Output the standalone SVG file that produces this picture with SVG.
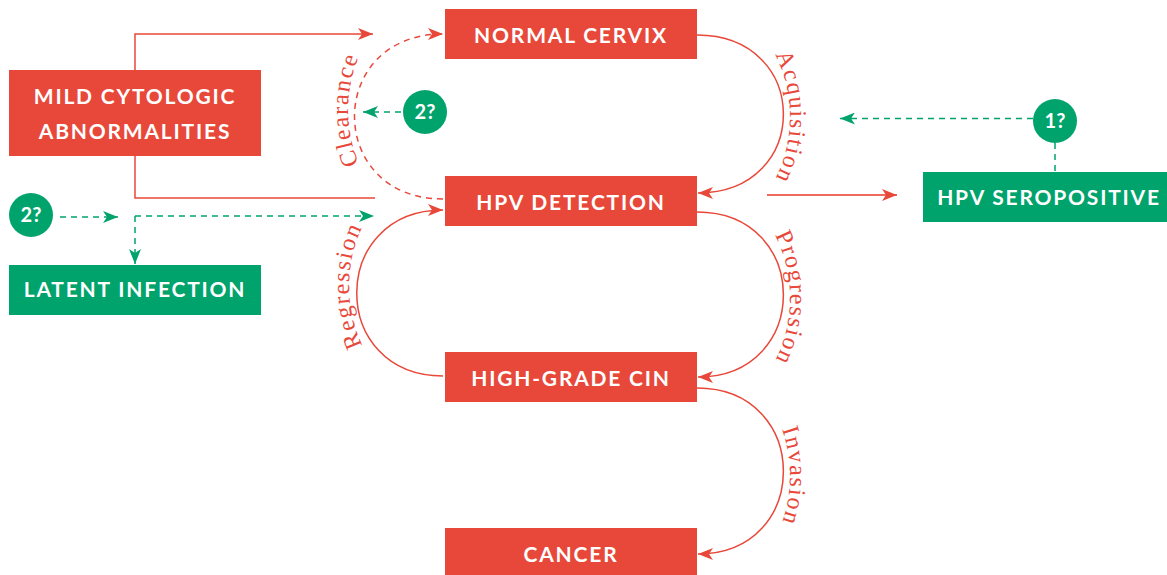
<svg xmlns="http://www.w3.org/2000/svg" width="1167" height="575" viewBox="0 0 1167 575">
<defs>
<style>
.red{fill:#E8483A}
.grn{fill:#00A36C}
.lbl{font-family:Lato,"Open Sans",sans-serif;font-weight:700;font-size:21px;letter-spacing:1.8px;fill:#fff;text-anchor:middle}
.num{font-family:Lato,"Open Sans",sans-serif;font-weight:700;font-size:20px;fill:#fff;text-anchor:middle}
.arc{font-family:"Liberation Serif","Times New Roman",serif;font-size:24px;letter-spacing:1.6px;fill:#E8483A}
.rl{fill:none;stroke:#E8483A;stroke-width:1.5}
.rd{fill:none;stroke:#E8483A;stroke-width:1.5;stroke-dasharray:6 5}
.gd{fill:none;stroke:#00A36C;stroke-width:1.5;stroke-dasharray:6 5}
.lt{fill:none;stroke:#EE6A5B;stroke-width:2}
</style>
<marker id="ar" viewBox="0 0 15 12" refX="15" refY="6" markerWidth="15" markerHeight="12" markerUnits="userSpaceOnUse" orient="auto">
<path d="M0,0 L15,6 L0,12 L4,6 Z" fill="#E8483A"/>
</marker>
<marker id="ag" viewBox="0 0 15 12" refX="15" refY="6" markerWidth="15" markerHeight="12" markerUnits="userSpaceOnUse" orient="auto">
<path d="M0,0 L15,6 L0,12 L4,6 Z" fill="#00A36C"/>
</marker>
<path id="pAcq" d="M697,2 A93,115 0 0 1 697,232"/>
<path id="pPro" d="M697,183 A93,115 0 0 1 697,413"/>
<path id="pInv" d="M697,361 A93,115 0 0 1 697,591"/>
<path id="pCle" d="M443,225 A95,115 0 0 1 443,-5"/>
<path id="pReg" d="M443,401 A94,115 0 0 1 443,171"/>
</defs>

<g id="connectors">
<path class="rl" d="M135,70 V34 H373" marker-end="url(#ar)"/>
<path class="rl" d="M135,156 V198 H375"/>
<path class="gd" d="M60,217 H118" marker-end="url(#ag)"/>
<path class="gd" d="M135,216 H374" marker-end="url(#ag)"/>
<path class="gd" d="M135,216 V264" marker-end="url(#ag)"/>
<path class="gd" d="M401,112 H363" marker-end="url(#ag)"/>
<path class="rd" d="M443,199 C325,199 325,34 443,34" marker-end="url(#ar)"/>
<path class="rl" d="M697,35 C812,35 812,193 698,193" marker-end="url(#ar)"/>
<path class="rl" d="M697,212 C812,212 812,377 698,377" marker-end="url(#ar)"/>
<path class="rl" d="M443,376 C328,376 328,210 443,210" marker-end="url(#ar)"/>
<path class="rl" d="M697,388 C812,388 812,554 698,554" marker-end="url(#ar)"/>
<path class="lt" d="M767,195 H897" marker-end="url(#ar)"/>
<path class="gd" d="M1033,118.5 H840" marker-end="url(#ag)"/>
<path class="gd" d="M1055,143 V172"/>
<text class="arc"><textPath href="#pAcq" startOffset="50%" text-anchor="middle">Acquisition</textPath></text>
<text class="arc"><textPath href="#pPro" startOffset="50%" text-anchor="middle">Progression</textPath></text>
<text class="arc"><textPath href="#pInv" startOffset="50%" text-anchor="middle">Invasion</textPath></text>
<text class="arc"><textPath href="#pCle" startOffset="50%" text-anchor="middle">Clearance</textPath></text>
<text class="arc"><textPath href="#pReg" startOffset="50%" text-anchor="middle">Regression</textPath></text>
</g>

<g id="normal-cervix"><rect class="red" x="445" y="9" width="252" height="50"/><text class="lbl" x="571" y="43">NORMAL CERVIX</text></g>
<g id="hpv-detection"><rect class="red" x="445" y="176" width="252" height="50"/><text class="lbl" x="571" y="210">HPV DETECTION</text></g>
<g id="high-grade-cin"><rect class="red" x="445" y="352" width="252" height="50"/><text class="lbl" x="571" y="386">HIGH-GRADE CIN</text></g>
<g id="cancer"><rect class="red" x="445" y="528" width="252" height="50"/><text class="lbl" x="571" y="562">CANCER</text></g>
<g id="mild-cytologic"><rect class="red" x="9" y="70" width="252" height="86"/><text class="lbl" x="135" y="104">MILD CYTOLOGIC</text><text class="lbl" x="135" y="138.5">ABNORMALITIES</text></g>
<g id="latent-infection"><rect class="grn" x="9" y="265" width="252" height="50"/><text class="lbl" x="135" y="297">LATENT INFECTION</text></g>
<g id="hpv-seropositive"><rect class="grn" x="923" y="172" width="252" height="50"/><text class="lbl" x="1049" y="205">HPV SEROPOSITIVE</text></g>
<g id="q-clearance"><circle class="grn" cx="425" cy="112" r="22"/><text class="num" x="425" y="119">2?</text></g>
<g id="q-latent"><circle class="grn" cx="31" cy="215" r="22"/><text class="num" x="31" y="222">2?</text></g>
<g id="q-sero"><circle class="grn" cx="1055" cy="121" r="22"/><text class="num" x="1055" y="128">1?</text></g>
</svg>
